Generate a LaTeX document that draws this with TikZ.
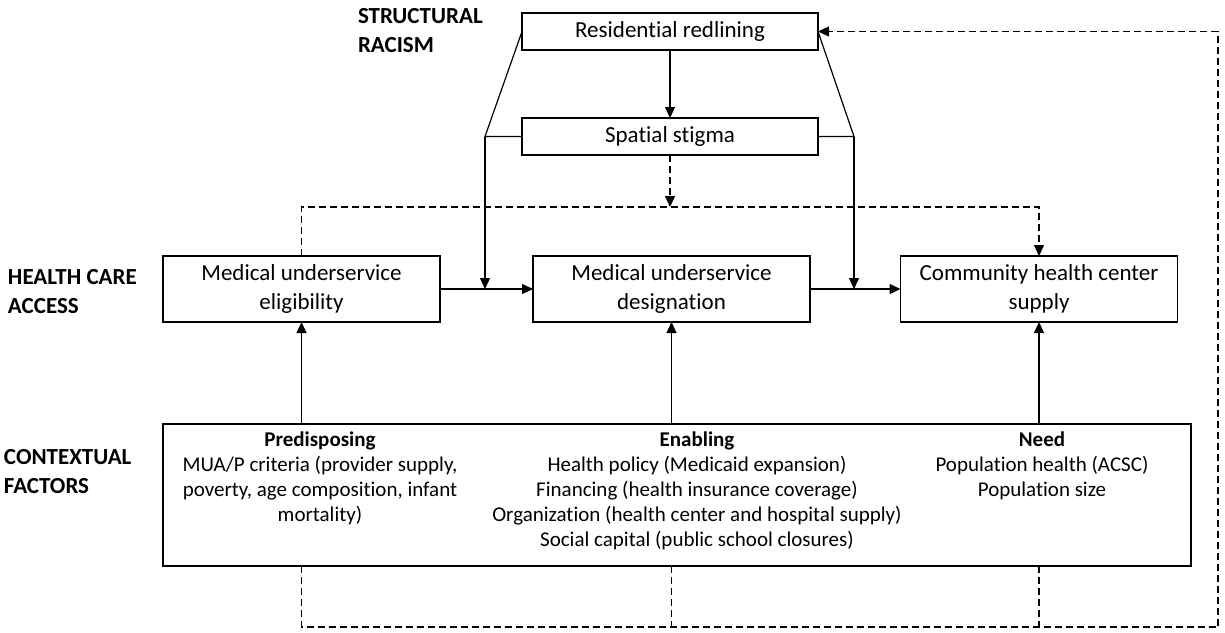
\documentclass[tikz,border=0pt]{standalone}
\usepackage{fontspec}
\setmainfont[Ligatures=NoCommon]{Carlito}
\usetikzlibrary{arrows.meta,calc}
\begin{document}
\begin{tikzpicture}[x=1pt,y=-1pt,
  every node/.style={inner sep=0pt, outer sep=0pt},
  box/.style={draw, line width=1.2pt, align=center, minimum width=#1, font=\fontsize{23}{29}\selectfont},
  box/.default=277pt,
  ctx/.style={align=center, anchor=north, font=\fontsize{21}{25}\selectfont},
  lab/.style={align=left, anchor=north west, font=\fontsize{23}{29}\selectfont\bfseries},
  tip/.style={-{Triangle[length=11pt,width=10pt]}},
  link/.style={line width=1.2pt},
  dsh/.style={line width=1.2pt, dash pattern=on 7pt off 4pt}]
\useasboundingbox (0,0) rectangle (1225,632);

% section labels
\node[lab] (lsr) at (358,8) {STRUCTURAL\\RACISM};
\node[lab] (lhc) at (8,269) {HEALTH CARE\\ACCESS};
\node[lab] (lcf) at (4,449) {CONTEXTUAL\\FACTORS};

% structural racism
\node[box=296pt, minimum height=37pt] (red) at (670,31.5) {Residential redlining};
\node[box=296pt, minimum height=37pt] (stig) at (670,136.5) {Spatial stigma};

% health care access
\node[box, minimum height=66pt] (elig) at (301.5,289) {Medical underservice\\eligibility};
\node[box, minimum height=66pt] (desig) at (671.5,289) {Medical underservice\\designation};
\node[box, minimum height=66pt] (chc) at (1039,289) {Community health center\\supply};

% contextual factors
\node[draw, line width=1.2pt, minimum width=1028pt, minimum height=142pt] (ctxbox) at (677,495) {};
\node[ctx] (pred) at (320,432) {\textbf{Predisposing}\\MUA/P criteria (provider supply,\\poverty, age composition, infant\\mortality)};
\node[ctx] (enab) at (697,432) {\textbf{Enabling}\\Health policy (Medicaid expansion)\\Financing (health insurance coverage)\\Organization (health center and hospital supply)\\Social capital (public school closures)};
\node[ctx] (need) at (1042,432) {\textbf{Need}\\Population health (ACSC)\\Population size};

% junction points
\coordinate (jl) at (485,136.5);
\coordinate (jr) at (854,136.5);
\coordinate (dj) at (670,207);
\coordinate (br) at (1218,627);
\coordinate (tr) at (1218,31.5);

% solid connectors
\draw[link,tip] (red) -- (stig);
\draw[link] (red.west) -- (jl) -- (stig.west);
\draw[link] (red.east) -- (jr) -- (stig.east);
\draw[link,tip] (jl) -- (jl |- elig.east);
\draw[link,tip] (jr) -- (jr |- elig.east);
\draw[link,tip] (elig) -- (desig);
\draw[link,tip] (desig) -- (chc);
\draw[link,tip] (ctxbox.north -| elig.south) -- (elig.south);
\draw[link,tip] (ctxbox.north -| desig.south) -- (desig.south);
\draw[link,tip] (ctxbox.north -| chc.south) -- (chc.south);

% dashed connectors
\draw[dsh,tip] (stig.south -| dj) -- (dj);
\draw[dsh,tip] (elig.north) -- (elig.north |- dj) -- (chc.north |- dj) -- (chc.north);
\draw[dsh] (ctxbox.south -| desig.south) -- (desig.south |- br);
\draw[dsh] (ctxbox.south -| chc.south) -- (chc.south |- br);
\draw[dsh,tip] (ctxbox.south -| elig.south) -- (elig.south |- br) -- (br) -- (tr) -- (red.east);
\end{tikzpicture}
\end{document}
